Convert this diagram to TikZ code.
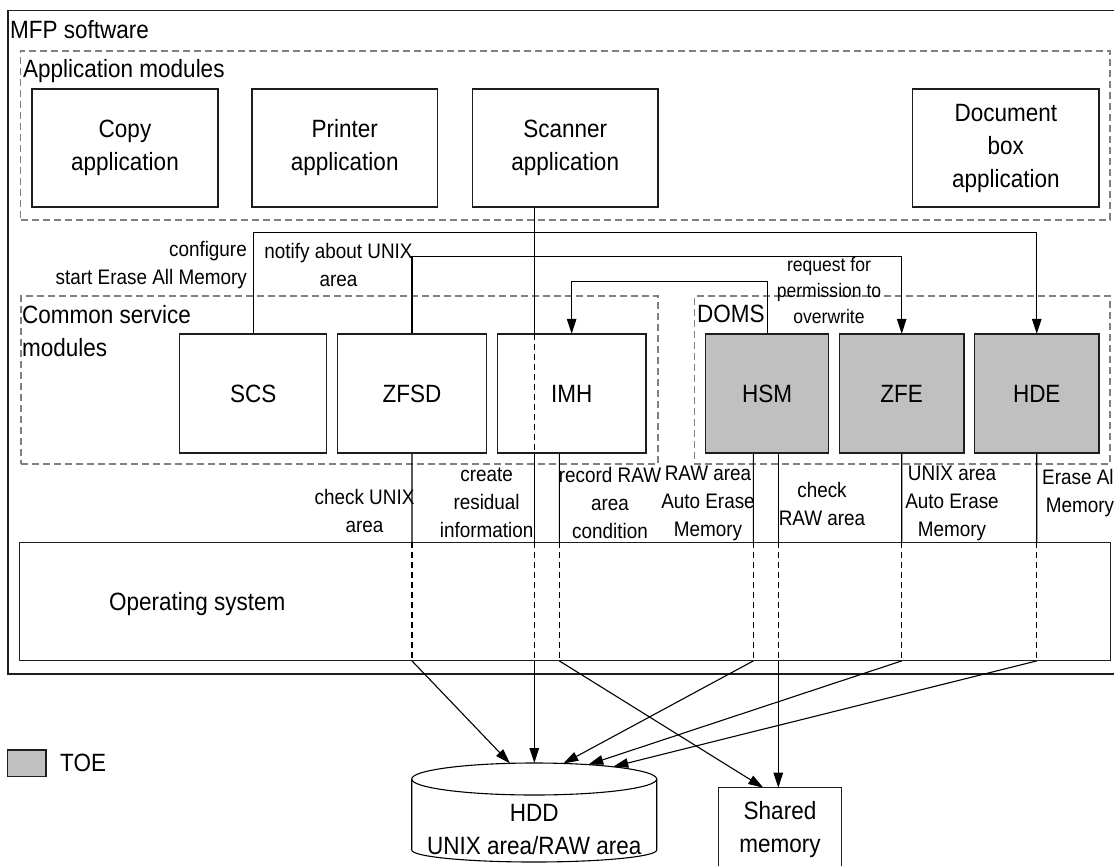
\documentclass[tikz,border=0pt]{standalone}
\usepackage{fontspec}
\setmainfont[FakeStretch=0.9]{Liberation Sans}
\usetikzlibrary{arrows.meta}
\definecolor{toegray}{RGB}{192,192,192}
\definecolor{dashgray}{RGB}{128,128,128}
\definecolor{edge}{RGB}{30,30,30}
\newcommand{\mfpbig}{\fontsize{25}{33}\selectfont}
\newcommand{\mfpsmall}{\fontsize{21}{28}\selectfont}
\newcommand{\mfpreq}{\fontsize{19.5}{26}\selectfont}
\begin{document}
\begin{tikzpicture}[x=1pt,y=-1pt,
  box/.style={draw=edge, line width=1.2pt, fill=white, inner sep=0pt, align=center, font=\mfpbig},
  toe/.style={box, fill=toegray},
  group/.style={draw=dashgray, line width=1.1pt, dash pattern=on 7pt off 4pt, inner sep=0pt},
  conn/.style={draw=black, line width=1.1pt},
  arr/.style={conn, -{Triangle[length=15pt,width=9.5pt]}},
  hidden/.style={draw=black, line width=1.1pt, dash pattern=on 6pt off 4pt},
  lbl/.style={inner sep=0pt, align=center, font=\mfpsmall},
  grp/.style={inner sep=0pt, font=\mfpbig},
  ]
\useasboundingbox (0,0) rectangle (1114,865);

% outer frame and groups
\node[draw=edge, line width=1.3pt, minimum width=1110pt, minimum height=663.3pt, inner sep=0pt] (mfp) at (563,342.35) {};
\node[group, minimum width=1089.3pt, minimum height=169pt] (appgrp) at (565.35,135.5) {};
\node[group, minimum width=637pt, minimum height=168pt] (csgrp) at (339.5,380) {};
\node[group, minimum width=415.7pt, minimum height=168pt] (domsgrp) at (902.15,380) {};

\node[grp, anchor=base west] (mfplbl) at (10,38.3) {MFP software};
\node[grp, anchor=base west] (applbl) at (23,77.5) {Application modules};
\node[grp, anchor=north west, align=left] (cslbl) at (22,305) {Common service\\modules};
\node[grp, anchor=base west] (domslbl) at (697,322.3) {DOMS};

% HDD cylinder
\draw[conn, fill=white] (411.7,779) -- (411.7,850) arc[start angle=180, end angle=360, x radius=122.5pt, y radius=12pt] -- (656.7,779) arc[start angle=0, end angle=180, x radius=122.5pt, y radius=16pt] -- cycle;
\draw[conn] (411.7,779) arc[start angle=180, end angle=360, x radius=122.5pt, y radius=16pt];
\node[lbl, font=\mfpbig] (hdd) at (534.2,830) {HDD\\UNIX area/RAW area};

% coordinates
\coordinate (yA) at (0,232.3);
\coordinate (yB) at (0,256.7);
\coordinate (yC) at (0,281.7);
\coordinate (cS) at (534.3,0);
\coordinate (cI) at (559.3,0);
\coordinate (cHL) at (753.3,0);
\coordinate (cHR) at (778.3,0);
\coordinate (hA) at (510,763.4);
\coordinate (hddtop) at (534.3,763);
\coordinate (hC) at (563.3,763.5);
\coordinate (hD) at (588.3,764.6);
\coordinate (hE) at (613.3,766.6);
\coordinate (sA) at (763.3,787.7);
\coordinate (sB) at (778.3,787.7);

% module boxes (positions only needed for connectors first)
\path
  node[box, minimum width=186pt, minimum height=118pt] (copy) at (125,148) {Copy\\application}
  node[box, minimum width=185.5pt, minimum height=118pt] (printer) at (344.75,148) {Printer\\application}
  node[box, minimum width=185.5pt, minimum height=118pt] (scanner) at (565.25,148) {Scanner\\application}
  node[box, minimum width=186.4pt, minimum height=118pt] (docbox) at (1005.8,148) {Document\\box\\application};

\path
  node[minimum width=147.2pt, minimum height=119pt, inner sep=0pt] (scs) at (253.2,393.5) {}
  node[minimum width=149pt, minimum height=119pt, inner sep=0pt] (zfsd) at (412,393.5) {}
  node[minimum width=148.7pt, minimum height=119pt, inner sep=0pt] (imh) at (571.65,393.5) {}
  node[minimum width=122.6pt, minimum height=119pt, inner sep=0pt] (hsm) at (767.1,393.5) {}
  node[minimum width=124.6pt, minimum height=119pt, inner sep=0pt] (zfe) at (901.7,393.5) {}
  node[minimum width=124.5pt, minimum height=119pt, inner sep=0pt] (hde) at (1036.75,393.5) {}
  node[minimum width=1091pt, minimum height=118.4pt, inner sep=0pt] (os) at (565.2,601.5) {};

% connectors
\draw[arr] (scs.north) -- (scs.north |- yA) -- (hde.north |- yA) -- (hde.north);
\draw[arr] (zfsd.north) -- (zfsd.north |- yB) -- (zfe.north |- yB) -- (zfe.north);
\draw[arr] (hsm.north) -- (hsm.north |- yC) -- (imh.north |- yC) -- (imh.north);
\draw[arr] (scanner.south -| cS) -- (hddtop);
\draw[arr] (zfsd.south) -- (zfsd.south |- os.south) -- (hA);
\draw[arr] (imh.south -| cI) -- (os.south -| cI) -- (sA);
\draw[arr] (hsm.south -| cHL) -- (os.south -| cHL) -- (hC);
\draw[arr] (hsm.south -| cHR) -- (sB);
\draw[arr] (zfe.south) -- (zfe.south |- os.south) -- (hD);
\draw[arr] (hde.south) -- (hde.south |- os.south) -- (hE);

% visible module boxes drawn over the connectors
\node[box, minimum width=147.2pt, minimum height=119pt] at (scs) {SCS};
\node[box, minimum width=149pt, minimum height=119pt] at (zfsd) {ZFSD};
\node[box, minimum width=148.7pt, minimum height=119pt] at (imh) {IMH};
\node[toe, minimum width=122.6pt, minimum height=119pt] at (hsm) {HSM};
\node[toe, minimum width=124.6pt, minimum height=119pt] at (zfe) {ZFE};
\node[toe, minimum width=124.5pt, minimum height=119pt] at (hde) {HDE};
\node[box, minimum width=1091pt, minimum height=118.4pt] at (os) {};
\node[grp, anchor=base west] (oslbl) at (109,610.7) {Operating system};

% hidden parts of connectors
\foreach \c in {zfsd.south, cS, cI, cHL, cHR, zfe.south, hde.south}
  \draw[hidden] (os.north -| \c) -- (os.south -| \c);
\draw[hidden] (imh.north -| cS) -- (imh.south -| cS);

% shared memory
\node[box, minimum width=123.4pt, minimum height=84.6pt] (shm) at (780,830) {Shared\\memory};

% connector labels
\node[lbl, anchor=east, align=right] (cfg) at (247,265) {configure\\start Erase All Memory};
\node[lbl] (notify) at (338.5,265) {notify about UNIX\\area};
\node[lbl, font=\mfpreq] (req) at (829,291) {request for\\permission to\\overwrite};
\node[lbl] (chku) at (364.5,511) {check UNIX\\area};
\node[lbl] (resid) at (486.6,503) {create\\residual\\information};
\node[lbl] (rec) at (610,503) {record RAW\\area\\condition};
\node[lbl] (rawae) at (708,503) {RAW area\\Auto Erase\\Memory};
\node[lbl] (chkr) at (822,503.7) {check\\RAW area};
\node[lbl] (unixae) at (952,503) {UNIX area\\Auto Erase\\Memory};
\node[lbl] (eam) at (1080,492.7) {Erase All\\Memory};

% legend
\node[toe, minimum width=38.7pt, minimum height=26.7pt] (toebox) at (26.65,763.35) {};
\node[grp, anchor=west] (toelbl) at (60,763) {TOE};
\end{tikzpicture}
\end{document}
